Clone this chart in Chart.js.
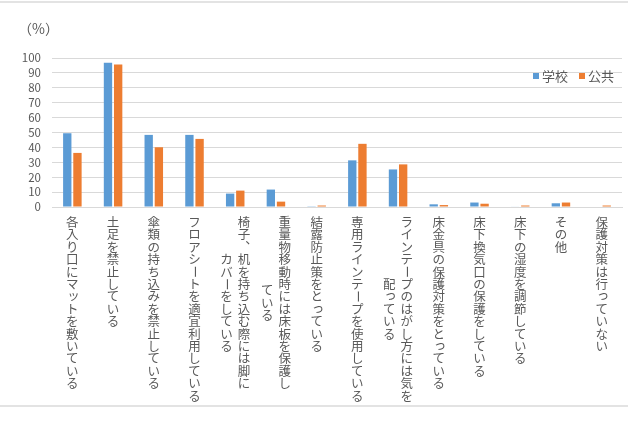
<!DOCTYPE html>
<html>
<head>
<meta charset="utf-8">
<script src="https://cdn.jsdelivr.net/npm/chart.js@4.4.1/dist/chart.umd.min.js"></script>
<style>
  html, body { margin: 0; padding: 0; background: #fff; }
  #wrap { position: relative; width: 628px; height: 421px; }
  #frame { position: absolute; left: 0; top: 1px; width: 628px; height: 406px;
           border-top: 2px solid #e3e3e3; border-bottom: 2px solid #e3e3e3; box-sizing: border-box; }
  #unit { position: absolute; left: 18px; top: 18px; font: 14px "Noto Sans CJK JP"; color: #595959; text-spacing-trim: space-all; }
  #legend { position: absolute; left: 533px; top: 66px; font: 13px "Noto Sans CJK JP"; color: #595959; white-space: nowrap; }
  #legend span.box { display: inline-block; width: 6px; height: 6px; margin-right: 3px; vertical-align: 2px; }
  #legend span.item { margin-right: 11px; }
</style>
</head>
<body>
<div id="wrap">
  <div id="frame"></div>
  <canvas id="chart" width="628" height="421"></canvas>
  <div id="unit">（%）</div>
  <div id="legend"></div>
</div>
<script>
// Categories (each entry = columns of vertical text, right column first)
const categories = [
  ["各入り口にマットを敷いている"],
  ["土足を禁止している"],
  ["傘類の持ち込みを禁止している"],
  ["フロアシートを適宜利用している"],
  ["椅子、机を持ち込む際には脚に", "カバーをしている"],
  ["重量物移動時には床板を保護し", "ている"],
  ["結露防止策をとっている"],
  ["専用ラインテープを使用している"],
  ["ラインテープのはがし方には気を", "配っている"],
  ["床金具の保護対策をとっている"],
  ["床下換気口の保護をしている"],
  ["床下の湿度を調節している"],
  ["その他"],
  ["保護対策は行っていない"]
];
const seriesNames = ["学校", "公共"];
const schoolValues = [49.5, 96.8, 48.4, 48.4, 9.0, 11.7, 0.5, 31.3, 25.2, 1.8, 3.0, 0.3, 2.5, 0];
const publicValues = [36.3, 95.7, 40.1, 45.7, 11.0, 3.6, 1.0, 42.4, 28.6, 1.3, 2.2, 1.0, 3.0, 1.0];
const colors = ["#5b9bd5", "#ed7d31"];

// Legend
const legend = document.getElementById("legend");
seriesNames.forEach((name, i) => {
  const item = document.createElement("span");
  item.className = "item";
  item.innerHTML = '<span class="box" style="background:' + colors[i] + '"></span>' + name;
  legend.appendChild(item);
});

// Vertical Japanese x labels
const rotateChars = "ー～";
const smallChars = "ァィゥェォッャュョぁぃぅぇぉっゃゅょ";
const verticalLabels = {
  id: "verticalLabels",
  afterDraw(chart) {
    const ctx = chart.ctx;
    const xScale = chart.scales.x;
    const size = 12.5;
    const pitch = 12.4;
    const colGap = 17.5;
    const top = 216;
    ctx.save();
    ctx.font = size + 'px "Noto Sans CJK JP"';
    ctx.fillStyle = "#595959";
    ctx.textAlign = "center";
    ctx.textBaseline = "middle";
    categories.forEach((cols, i) => {
      const cx = xScale.getPixelForValue(i);
      const maxLen = Math.max(...cols.map(c => [...c].length));
      cols.forEach((text, j) => {
        const chars = [...text];
        const x = cx + (cols.length - 1) / 2 * colGap - j * colGap;
        const y0 = top + (maxLen - chars.length) / 2 * pitch;
        chars.forEach((ch, k) => {
          const y = y0 + pitch * (k + 0.5);
          if (rotateChars.includes(ch)) {
            ctx.save();
            ctx.translate(x, y);
            ctx.rotate(Math.PI / 2);
            ctx.fillText(ch, 0, 0);
            ctx.restore();
          } else if (ch === "、" || ch === "。") {
            ctx.fillText(ch, x + size * 0.6, y - size * 0.6);
          } else if (smallChars.includes(ch)) {
            ctx.fillText(ch, x + size * 0.1, y - size * 0.1);
          } else {
            ctx.fillText(ch, x, y);
          }
        });
      });
    });
    ctx.restore();
  }
};

new Chart(document.getElementById("chart"), {
  type: "bar",
  data: {
    labels: categories.map(c => c.join("")),
    datasets: [
      { label: seriesNames[0], data: schoolValues, backgroundColor: colors[0] },
      { label: seriesNames[1], data: publicValues, backgroundColor: colors[1] }
    ]
  },
  options: {
    responsive: false,
    animation: false,
    layout: { padding: { top: 58, bottom: 206, left: 0, right: 6 } },
    datasets: { bar: { categoryPercentage: 0.5, barPercentage: 0.82 } },
    plugins: { legend: { display: false }, tooltip: { enabled: false } },
    scales: {
      x: {
        ticks: { display: false },
        grid: { display: false },
        border: { color: "#d9d9d9", width: 1 }
      },
      y: {
        min: 0,
        max: 100,
        ticks: { stepSize: 10, autoSkip: false, padding: 11, color: "#595959", font: { family: "Noto Sans CJK JP", size: 11.5 } },
        grid: { color: "#d9d9d9", drawTicks: false },
        border: { display: false },
        afterFit(scale) { scale.width = 52; }
      }
    }
  },
  plugins: [verticalLabels]
});
</script>
</body>
</html>
